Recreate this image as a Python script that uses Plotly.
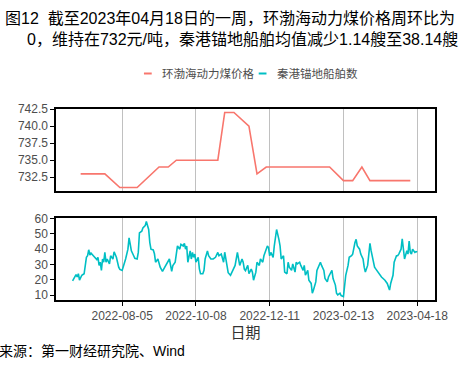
import plotly.graph_objects as go

# ---- price series (weekly vertices) ----
price_dates = ["2022-06-30", "2022-07-21", "2022-08-03", "2022-08-18", "2022-09-06",
               "2022-09-14", "2022-09-21", "2022-10-27", "2022-11-02", "2022-11-10",
               "2022-11-23", "2022-11-30", "2022-12-08", "2023-02-01", "2023-02-13",
               "2023-02-21", "2023-03-01", "2023-03-08", "2023-04-12"]
price_vals = [733, 733, 731, 731, 734, 734, 735, 735, 742, 742,
              740, 733, 734, 734, 732, 732, 734, 732, 732]

# ---- anchored ships count ----
ship_dates = [
    "2022-06-23", "2022-06-25", "2022-06-26", "2022-06-27", "2022-06-28", "2022-06-29",
    "2022-07-01", "2022-07-03", "2022-07-04", "2022-07-05", "2022-07-06", "2022-07-07",
    "2022-07-08", "2022-07-09", "2022-07-11", "2022-07-12", "2022-07-14", "2022-07-15",
    "2022-07-16", "2022-07-17", "2022-07-18", "2022-07-19", "2022-07-20", "2022-07-21",
    "2022-07-22", "2022-07-23", "2022-07-25", "2022-07-26", "2022-07-28", "2022-07-29",
    "2022-07-31", "2022-08-02", "2022-08-03", "2022-08-05", "2022-08-06", "2022-08-08",
    "2022-08-10", "2022-08-11", "2022-08-12", "2022-08-13", "2022-08-15", "2022-08-16",
    "2022-08-18", "2022-08-19", "2022-08-20", "2022-08-22", "2022-08-23", "2022-08-25",
    "2022-08-26", "2022-08-28", "2022-08-29", "2022-08-30", "2022-09-01", "2022-09-02",
    "2022-09-03", "2022-09-05", "2022-09-07", "2022-09-09", "2022-09-11", "2022-09-13",
    "2022-09-14", "2022-09-15", "2022-09-17", "2022-09-18", "2022-09-20", "2022-09-21",
    "2022-09-22", "2022-09-24", "2022-09-25", "2022-09-27", "2022-09-28", "2022-09-29",
    "2022-09-30", "2022-10-01", "2022-10-03", "2022-10-04", "2022-10-05", "2022-10-06",
    "2022-10-07", "2022-10-08", "2022-10-10", "2022-10-11", "2022-10-12", "2022-10-14",
    "2022-10-15", "2022-10-16", "2022-10-18", "2022-10-19", "2022-10-21", "2022-10-23",
    "2022-10-25", "2022-10-27", "2022-10-28", "2022-10-30", "2022-11-01", "2022-11-02",
    "2022-11-05", "2022-11-07", "2022-11-09", "2022-11-11", "2022-11-13", "2022-11-14",
    "2022-11-15", "2022-11-17", "2022-11-18", "2022-11-19", "2022-11-20", "2022-11-22",
    "2022-11-23", "2022-11-25", "2022-11-26", "2022-11-27", "2022-11-29", "2022-11-30",
    "2022-12-02", "2022-12-03", "2022-12-05", "2022-12-06", "2022-12-08", "2022-12-09",
    "2022-12-10", "2022-12-11", "2022-12-12", "2022-12-14", "2022-12-15", "2022-12-16",
    "2022-12-17", "2022-12-19", "2022-12-20", "2022-12-21", "2022-12-23", "2022-12-24",
    "2022-12-26", "2022-12-27", "2022-12-28", "2022-12-30", "2022-12-31", "2023-01-02",
    "2023-01-03", "2023-01-04", "2023-01-06", "2023-01-07", "2023-01-09", "2023-01-10",
    "2023-01-11", "2023-01-13", "2023-01-14", "2023-01-16", "2023-01-17", "2023-01-18",
    "2023-01-20", "2023-01-21", "2023-01-23", "2023-01-24", "2023-01-25", "2023-01-27",
    "2023-01-28", "2023-01-30", "2023-01-31", "2023-02-02", "2023-02-03", "2023-02-04",
    "2023-02-06", "2023-02-07", "2023-02-08", "2023-02-10", "2023-02-11", "2023-02-13",
    "2023-02-14", "2023-02-15", "2023-02-17", "2023-02-18", "2023-02-20", "2023-02-21",
    "2023-02-23", "2023-02-24", "2023-02-25", "2023-02-27", "2023-02-28", "2023-03-02",
    "2023-03-03", "2023-03-04", "2023-03-06", "2023-03-07", "2023-03-08", "2023-03-09",
    "2023-03-11", "2023-03-12", "2023-03-13", "2023-03-16", "2023-03-18", "2023-03-21",
    "2023-03-23", "2023-03-25", "2023-03-26", "2023-03-28", "2023-03-29", "2023-03-31",
    "2023-04-01", "2023-04-02", "2023-04-04", "2023-04-05", "2023-04-06", "2023-04-07",
    "2023-04-09", "2023-04-10", "2023-04-11", "2023-04-12", "2023-04-13", "2023-04-14",
    "2023-04-16", "2023-04-17", "2023-04-18"]
ship_vals = [
    19.4, 21.9, 23.4, 21.9, 24.0, 19.8,
    23.0, 24.0, 31.5, 34.7, 35.7, 39.6,
    36.2, 37.4, 35.7, 34.7, 33.2, 34.7,
    29.4, 31.5, 26.2, 33.6, 31.5, 37.9,
    31.5, 33.6, 30.4, 35.7, 33.6, 38.3,
    34.7, 28.3, 26.8, 26.2, 28.3, 33.6,
    40.0, 47.4, 43.2, 38.9, 35.7, 34.0,
    33.6, 37.9, 50.6, 51.7, 53.8, 55.3,
    58.0, 52.8, 44.3, 40.0, 39.5, 37.0,
    31.5, 33.6, 28.3, 25.5, 28.3, 31.5,
    32.5, 33.6, 25.5, 29.4, 31.5, 35.7,
    42.1, 40.0, 43.2, 42.1, 43.8, 40.0,
    42.1, 31.5, 38.9, 33.6, 37.9, 34.7,
    36.8, 31.5, 34.7, 27.2, 24.0, 24.0,
    26.2, 33.6, 38.9, 35.7, 33.6, 33.6,
    34.7, 37.9, 35.7, 36.8, 31.5, 38.0,
    24.7, 23.0, 26.2, 29.4, 37.9, 33.6,
    29.4, 33.6, 31.5, 27.0, 26.0, 29.5,
    24.0, 27.0, 25.0, 19.8, 25.0, 31.5,
    29.4, 33.6, 31.5, 35.7, 40.0, 42.1,
    41.0, 35.7, 37.9, 34.7, 42.1, 48.5,
    52.8, 46.4, 42.1, 33.6, 35.7, 25.1,
    24.0, 31.5, 28.3, 26.2, 30.4, 25.1,
    31.5, 30.4, 31.5, 29.4, 26.2, 29.4,
    23.0, 26.2, 19.8, 17.7, 11.3, 13.4,
    18.7, 26.2, 30.4, 31.5, 29.4, 26.2,
    20.9, 18.7, 21.9, 25.1, 26.2, 20.9,
    16.6, 11.3, 10.2, 11.3, 9.8, 9.1,
    18.7, 23.0, 29.4, 34.7, 35.7, 36.8,
    44.3, 46.4, 42.1, 40.0, 36.8, 33.6,
    28.3, 25.1, 29.4, 37.9, 43.8, 39.0,
    31.5, 28.3, 27.2, 24.0, 21.9, 19.8,
    17.7, 13.4, 17.7, 23.0, 31.5, 35.7,
    35.7, 36.8, 40.0, 46.8, 37.9, 33.6,
    39.0, 36.8, 45.3, 37.9, 36.8, 40.0,
    37.9, 38.4, 38.1]

tick_dates = ["2022-08-05", "2022-10-08", "2022-12-11", "2023-02-13", "2023-04-18"]
price_ticks = [732.5, 735.0, 737.5, 740.0, 742.5]
ship_ticks = [10, 20, 30, 40, 50, 60]

title_line1 = "图12  截至2023年04月18日的一周，环渤海动力煤价格周环比为"
title_line2 = "0，维持在732元/吨，秦港锚地船舶均值减少1.14艘至38.14艘"
legend_names = ["环渤海动力煤价格", "秦港锚地船舶数"]
source_text = "来源：第一财经研究院、Wind"
x_title = "日期"

W, H = 474, 368
RED = "#F8766D"
TEAL = "#00BFC4"
FONT = "Liberation Sans, Arial, Noto Sans CJK SC, sans-serif"

fig = go.Figure()
fig.add_trace(go.Scatter(x=price_dates, y=price_vals, mode="lines",
                         line=dict(color=RED, width=1.6), name=legend_names[0],
                         xaxis="x", yaxis="y", showlegend=False))
fig.add_trace(go.Scatter(x=ship_dates, y=ship_vals, mode="lines",
                         line=dict(color=TEAL, width=1.6), name=legend_names[1],
                         xaxis="x2", yaxis="y2", showlegend=False))

xrange = ["2022-06-08 17:00", "2023-05-03 05:00"]
xdom = [57.7 / W, 447 / W]

common_x = dict(range=xrange, domain=xdom, type="date", tickvals=tick_dates,
                showgrid=True, gridcolor="#c0c0c0", gridwidth=1.3,
                showline=True, linecolor="black", linewidth=1.6, mirror=True,
                zeroline=False)
common_y = dict(showgrid=False, showline=True, linecolor="black", linewidth=1.6,
                mirror=True, zeroline=False, ticks="outside", ticklen=4,
                tickcolor="black", tickwidth=1,
                tickfont=dict(size=12, color="#4d4d4d", family=FONT))

fig.update_layout(
    width=W, height=H,
    margin=dict(l=0, r=0, t=0, b=0),
    paper_bgcolor="white", plot_bgcolor="white",
    font=dict(family=FONT),
    xaxis=dict(**common_x, anchor="y", showticklabels=False, ticks=""),
    yaxis=dict(**common_y, domain=[1 - 189 / H, 1 - 105 / H], range=[730.5, 742.55],
               tickvals=price_ticks, tickformat=".1f", anchor="x"),
    xaxis2=dict(**common_x, anchor="y2", ticktext=tick_dates, ticks="outside",
                ticklen=4, tickcolor="black", tickwidth=1,
                tickfont=dict(size=12, color="#4d4d4d", family=FONT),
                title=dict(text=x_title, font=dict(size=15, color="#333333", family=FONT),
                           standoff=5)),
    yaxis2=dict(**common_y, domain=[1 - 300.7 / H, 1 - 216.7 / H], range=[6.8, 60.3],
                tickvals=ship_ticks, anchor="x2"),
)

anns = [
    dict(text=title_line1, x=3 / W, y=1 - 12.5 / H, xanchor="left", yanchor="middle",
         font=dict(size=16, color="black", family=FONT)),
    dict(text=title_line2, x=26 / W, y=1 - 34 / H, xanchor="left", yanchor="middle",
         font=dict(size=16, color="black", family=FONT)),
    dict(text=legend_names[0], x=164 / W, y=1 - 69 / H, xanchor="left", yanchor="middle",
         font=dict(size=11.5, color="#4d4d4d", family=FONT)),
    dict(text=legend_names[1], x=283 / W, y=1 - 69 / H, xanchor="left", yanchor="middle",
         font=dict(size=11.5, color="#4d4d4d", family=FONT)),
    dict(text=source_text, x=-3 / W, y=1 - 353 / H, xanchor="left", yanchor="middle",
         font=dict(size=14, color="black", family=FONT)),
]
for a in anns:
    a.update(xref="paper", yref="paper", showarrow=False)
fig.update_layout(annotations=anns)

fig.update_layout(shapes=[
    dict(type="line", xref="paper", yref="paper", x0=148 / W, x1=156 / W,
         y0=1 - 69 / H, y1=1 - 69 / H, line=dict(color=RED, width=2)),
    dict(type="line", xref="paper", yref="paper", x0=266 / W, x1=274 / W,
         y0=1 - 69 / H, y1=1 - 69 / H, line=dict(color=TEAL, width=2)),
])

fig.write_html("out.html", config={"displayModeBar": False},
               post_script="document.body.style.margin='0';document.body.style.padding='0';"
                           "document.documentElement.style.overflow='hidden';")
